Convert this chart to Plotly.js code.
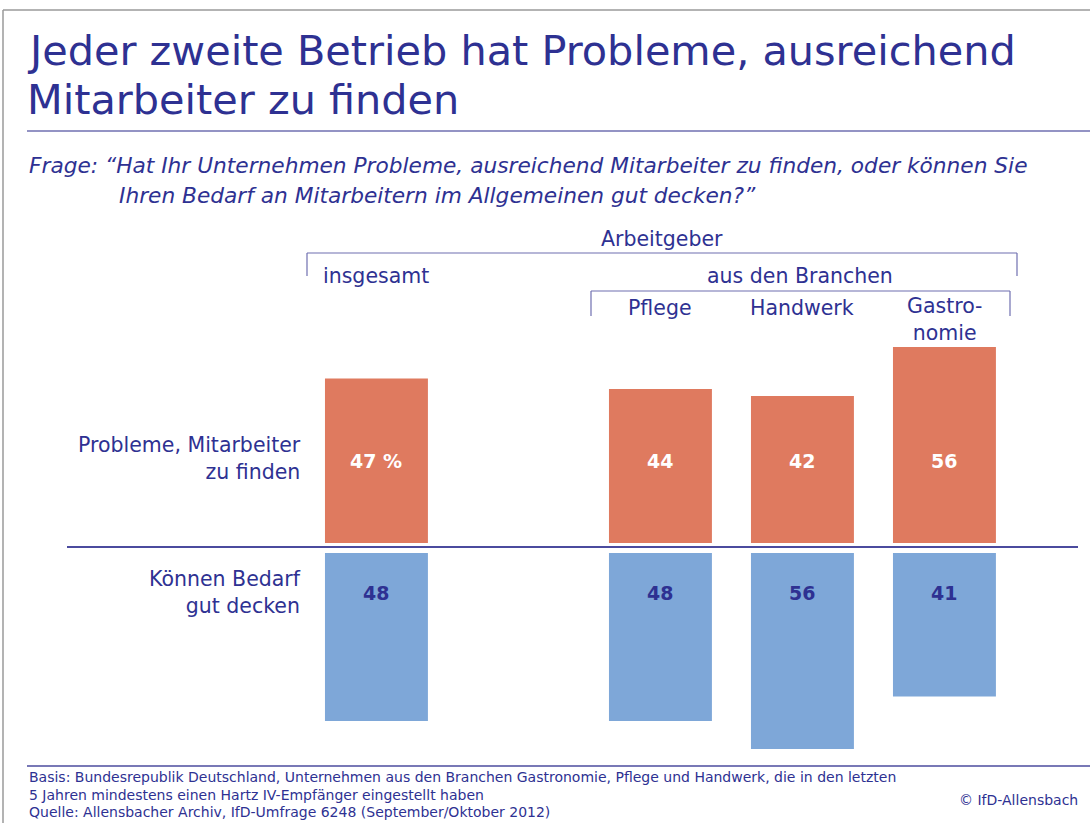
<!DOCTYPE html>
<html>
<head>
<meta charset="utf-8">
<script src="https://cdn.plot.ly/plotly-3.0.1.min.js"></script>
<style>
  html, body { margin: 0; padding: 0; background: #ffffff; }
  #chart { width: 1090px; height: 823px; }
</style>
</head>
<body>
<div id="chart"></div>
<script>
// ---- data ----
const categories = ['insgesamt', 'Pflege', 'Handwerk', 'Gastronomie'];
const headerLabels = ['insgesamt', 'Pflege', 'Handwerk', 'Gastro-<br>nomie'];
const probleme = [47, 44, 42, 56];
const bedarfGedeckt = [48, 48, 56, 41];
const problemeLabels = ['47 %', '44', '42', '56'];
const bedarfLabels = ['48', '48', '56', '41'];
const rowLabels = ['Probleme, Mitarbeiter<br>zu finden', 'Können Bedarf<br>gut decken'];

// ---- style ----
const W = 1090, H = 823;
const FONT = 'DejaVu Sans, sans-serif';
const NAVY = '#2E3192';
const ORANGE = '#DF7A5F';
const BLUE = '#7EA7D8';
const LBL = 20.5;
const px = x => x / W;
const py = y => 1 - y / H;

const traces = [
  {
    type: 'bar', x: categories, y: probleme, base: 1.15,
    width: 0.725, marker: { color: ORANGE }, hoverinfo: 'skip', name: 'Probleme'
  },
  {
    type: 'bar', x: categories, y: bedarfGedeckt.map(v => -v), base: -1.7,
    width: 0.725, marker: { color: BLUE }, hoverinfo: 'skip', name: 'Bedarf'
  }
];

const annotations = [];
function txt(text, x, y, opts) {
  annotations.push(Object.assign({
    text: text, x: px(x), y: py(y), xref: 'paper', yref: 'paper',
    showarrow: false, xanchor: 'left', yanchor: 'middle',
    font: { family: FONT, size: LBL, color: NAVY }
  }, opts || {}));
}

// title
txt('Jeder zweite Betrieb hat Probleme, ausreichend', 25, 51, { font: { family: FONT, size: 41.4, color: NAVY } });
txt('Mitarbeiter zu finden', 25, 100, { font: { family: FONT, size: 41.4, color: NAVY } });
// question
txt('<i>Frage: “Hat Ihr Unternehmen Probleme, ausreichend Mitarbeiter zu finden, oder können Sie</i>', 27, 166, { font: { family: FONT, size: 21.7, color: NAVY } });
txt('<i>Ihren Bedarf an Mitarbeitern im Allgemeinen gut decken?”</i>', 117, 195, { font: { family: FONT, size: 21.7, color: NAVY } });

// group headers
txt('Arbeitgeber', 662, 239, { xanchor: 'center' });
txt('aus den Branchen', 800, 276, { xanchor: 'center' });
txt(headerLabels[0], 321, 276);
// category headers over their bars
for (let i = 1; i < categories.length; i++) {
  annotations.push({
    text: headerLabels[i], x: categories[i], xref: 'x', y: py(i === 3 ? 319 : 308), yref: 'paper',
    showarrow: false, xanchor: 'center', yanchor: 'middle',
    font: { family: FONT, size: LBL, color: NAVY }
  });
}

// row labels
txt(rowLabels[0], 303, 458, { xanchor: 'right', align: 'right' });
txt(rowLabels[1], 303, 592, { xanchor: 'right', align: 'right' });

// value labels
categories.forEach((c, i) => {
  annotations.push({
    text: '<b>' + problemeLabels[i] + '</b>', x: c, xref: 'x', y: py(461), yref: 'paper',
    showarrow: false, xanchor: 'center', yanchor: 'middle',
    font: { family: FONT, size: 19, color: '#ffffff' }
  });
  annotations.push({
    text: '<b>' + bedarfLabels[i] + '</b>', x: c, xref: 'x', y: py(593), yref: 'paper',
    showarrow: false, xanchor: 'center', yanchor: 'middle',
    font: { family: FONT, size: 19, color: NAVY }
  });
});

// footer
const foot = { family: FONT, size: 14, color: NAVY };
txt('Basis: Bundesrepublik Deutschland, Unternehmen aus den Branchen Gastronomie, Pflege und Handwerk, die in den letzten', 27, 777, { font: foot });
txt('5 Jahren mindestens einen Hartz IV-Empfänger eingestellt haben', 27, 795, { font: foot });
txt('Quelle: Allensbacher Archiv, IfD-Umfrage 6248 (September/Oktober 2012)', 27, 812, { font: foot });
txt('© IfD-Allensbach', 1080, 800, { xanchor: 'right', font: foot });

function line(x0, y0, x1, y1, color, width) {
  return { type: 'line', xref: 'paper', yref: 'paper', x0: px(x0), y0: py(y0), x1: px(x1), y1: py(y1),
           line: { color: color, width: width } };
}
const shapes = [
  line(3, 10, 1090, 10, '#9a9a9a', 1.5),
  line(3, 10, 3, 823, '#9a9a9a', 1.5),
  line(27, 131, 1090, 131, '#6F6FB0', 1.5),
  line(67, 547, 1078, 547, '#4B4B9E', 2),
  line(27, 766, 1090, 766, '#4B4B9E', 1.5),
  // Arbeitgeber bracket
  line(307, 253, 1017, 253, '#6F6FB0', 1.2),
  line(307, 253, 307, 276, '#6F6FB0', 1.2),
  line(1017, 253, 1017, 276, '#6F6FB0', 1.2),
  // Branchen bracket
  line(591, 291, 1010, 291, '#6F6FB0', 1.2),
  line(591, 291, 591, 316, '#6F6FB0', 1.2),
  line(1010, 291, 1010, 316, '#6F6FB0', 1.2)
];

const layout = {
  width: W, height: H,
  margin: { l: 0, r: 0, t: 0, b: 0 },
  paper_bgcolor: '#ffffff', plot_bgcolor: '#ffffff',
  showlegend: false,
  barmode: 'overlay',
  xaxis: {
    type: 'category', categoryorder: 'array',
    categoryarray: ['insgesamt', ' ', 'Pflege', 'Handwerk', 'Gastronomie'],
    range: [-2.651, 5.025], visible: false, fixedrange: true
  },
  yaxis: { range: [-78.86, 156.29], visible: false, fixedrange: true },
  annotations: annotations,
  shapes: shapes
};

Plotly.newPlot('chart', traces, layout, { staticPlot: true, displayModeBar: false });
</script>
</body>
</html>
